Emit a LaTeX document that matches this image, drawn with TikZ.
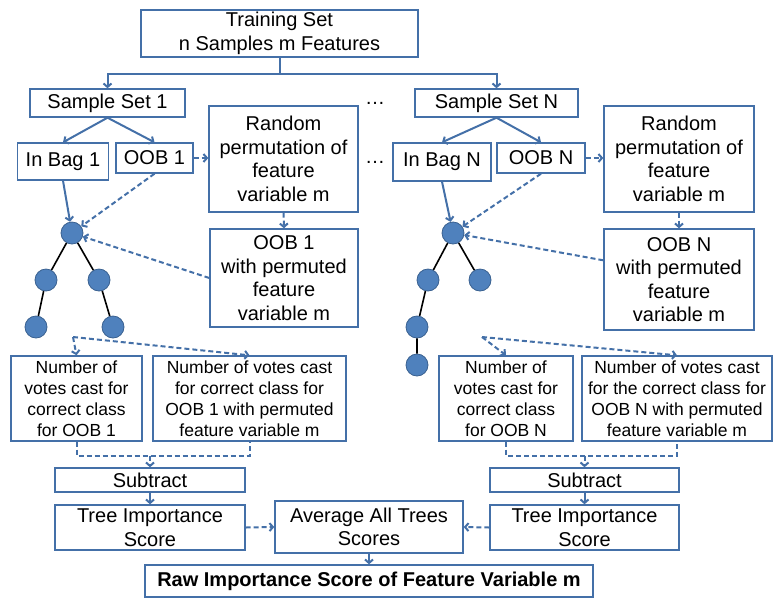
\documentclass[tikz,border=0pt]{standalone}
\usepackage{fontspec}
\setmainfont{Liberation Sans}
\usepackage{xcolor}
\usetikzlibrary{arrows.meta}
\definecolor{flowBlue}{HTML}{4470A8}
\definecolor{leafFill}{HTML}{4F81BD}
\definecolor{leafEdge}{HTML}{3A6190}

\begin{document}
\begin{tikzpicture}[
    x=1pt, y=-1pt,
    every node/.style={font=\fontsize{20}{23.5}\selectfont},
    box/.style={draw=flowBlue, line width=1.4pt, inner sep=0pt, align=center},
    small/.style={font=\fontsize{17.5}{21}\selectfont},
    link/.style={draw=flowBlue, line width=2pt},
    arr/.style={link, -{Straight Barb[length=3.5pt,width=8pt]}},
    darr/.style={arr, dash pattern=on 5pt off 3pt},
    dlink/.style={link, dash pattern=on 5pt off 3pt},
    leaf/.style={circle, fill=leafFill, draw=leafEdge, line width=0.8pt, minimum size=22pt, inner sep=0pt},
    branch/.style={draw=black, line width=1.6pt},
]
  \useasboundingbox (0,0) rectangle (773,598);
  % top of the flow
  \node[box, minimum width=277pt, minimum height=47pt] (train) at (279.5,33.5) {Training Set\\n Samples m Features};
  \node[box, minimum width=155pt, minimum height=28pt] (ss1) at (107.5,103) {Sample Set 1};
  \node[box, minimum width=163pt, minimum height=28pt] (ssN) at (496.5,103) {Sample Set N};
  \node (dotsA) at (375,103) {\dots};
  \node (dotsB) at (375,162) {\dots};
  % bags (tree 1)
  \node[box, minimum width=91pt, minimum height=37pt] (bag1) at (63,161.5) {In Bag 1};
  \node[box, minimum width=77pt, minimum height=30pt] (oob1) at (154.5,158) {OOB 1};
  \node[box, minimum width=149pt, minimum height=106pt] (rnd1) at (283.5,159) {Random\\permutation of\\feature\\variable m};
  \node[box, minimum width=148pt, minimum height=98pt] (perm1) at (284,278) {OOB 1\\with permuted\\feature\\variable m};
  % bags (tree N)
  \node[box, minimum width=98pt, minimum height=38pt] (bagN) at (442,162) {In Bag N};
  \node[box, minimum width=88pt, minimum height=30pt] (oobN) at (541,158) {OOB N};
  \node[box, minimum width=150pt, minimum height=106pt] (rndN) at (679,159) {Random\\permutation of\\feature\\variable m};
  \node[box, minimum width=150pt, minimum height=101pt] (permN) at (679,279.5) {OOB N\\with permuted\\feature\\variable m};
  % trees
  \node[leaf] (t1r) at (72,233) {};
  \node[leaf] (t1a) at (46,280) {};
  \node[leaf] (t1b) at (99,280) {};
  \node[leaf] (t1c) at (36,327) {};
  \node[leaf] (t1d) at (113,327) {};
  \node[leaf] (tNr) at (453,233) {};
  \node[leaf] (tNa) at (428,280) {};
  \node[leaf] (tNb) at (480,280) {};
  \node[leaf] (tNc) at (417,327) {};
  \node[leaf] (tNd) at (417,365) {};
  \draw[branch] (t1r) -- (t1a) (t1r) -- (t1b) (t1a) -- (t1c) (t1b) -- (t1d);
  \draw[branch] (tNr) -- (tNa) (tNr) -- (tNb) (tNa) -- (tNc) (tNc) -- (tNd);
  % vote counts
  \node[box, small, minimum width=131pt, minimum height=85pt] (vote1a) at (76.5,398.5) {Number of\\votes cast for\\correct class\\for OOB 1};
  \node[box, small, minimum width=193pt, minimum height=85pt] (vote1b) at (249.5,398.5) {Number of votes cast\\for correct class for\\OOB 1 with permuted\\feature variable m};
  \node[box, small, minimum width=134pt, minimum height=85pt] (voteNa) at (506,398.5) {Number of\\votes cast for\\correct class\\for OOB N};
  \node[box, small, minimum width=190pt, minimum height=85pt] (voteNb) at (677,398.5) {Number of votes cast\\for the correct class for\\OOB N with permuted\\feature variable m};
  % scores
  \node[box, minimum width=190pt, minimum height=24pt] (sub1) at (150,480) {Subtract};
  \node[box, minimum width=189pt, minimum height=24pt] (subN) at (584.5,480) {Subtract};
  \node[box, minimum width=190pt, minimum height=45pt] (imp1) at (150,527.5) {Tree Importance\\Score};
  \node[box, minimum width=189pt, minimum height=45pt] (impN) at (584.5,527.5) {Tree Importance\\Score};
  \node[box, minimum width=188pt, minimum height=52pt] (avg) at (369,527) {Average All Trees\\Scores};
  \node[box, minimum width=448pt, minimum height=32pt, font=\fontsize{20}{23.5}\selectfont\bfseries] (raw) at (369,581) {Raw Importance Score of Feature Variable m};
  % connectors
  \draw[link] (train.south) -- ++(0,16) coordinate (split);
  \draw[arr] (split) -| (ss1.north);
  \draw[arr] (split) -| (ssN.north);
  \draw[arr] (ss1.south) -- (bag1.north);
  \draw[arr] (ss1.south) -- (oob1.north);
  \draw[arr] (ssN.south) -- (bagN.north);
  \draw[arr] (ssN.south) -- (oobN.north);
  \draw[darr] (oob1.east) -- (oob1.east -| rnd1.west);
  \draw[darr] (oobN.east) -- (oobN.east -| rndN.west);
  \draw[darr] (rnd1.south) -- (perm1.north);
  \draw[darr] (rndN.south) -- (permN.north);
  \draw[arr] (bag1.south) -- (t1r);
  \draw[darr] (oob1.south) -- (t1r);
  \draw[darr] (perm1.west) -- (t1r);
  \draw[arr] (bagN.south) -- (tNr);
  \draw[darr] (oobN.south) -- (tNr);
  \draw[darr] ([yshift=-32pt]permN.north west) -- (tNr);
  \coordinate (out1) at (73,337);
  \coordinate (outN) at (482,337);
  \draw[darr] (out1) -- (vote1a.north);
  \draw[darr] (out1) -- (vote1b.north);
  \draw[darr] (outN) -- (voteNa.north);
  \draw[darr] (outN) -- (voteNb.north);
  \draw[dlink] (vote1a.south) -- ++(0,14) coordinate (join1) -| (vote1b.south);
  \draw[dlink] (voteNa.south) -- ++(0,14) coordinate (joinN) -| (voteNb.south);
  \draw[darr] (join1 -| sub1.north) -- (sub1.north);
  \draw[darr] (joinN -| subN.north) -- (subN.north);
  \draw[arr] (sub1.south) -- (imp1.north);
  \draw[arr] (subN.south) -- (impN.north);
  \draw[darr] (imp1.east) -- (avg.west);
  \draw[darr] (impN.west) -- (avg.east);
  \draw[arr] (avg.south) -- (raw.north);
\end{tikzpicture}
\end{document}
